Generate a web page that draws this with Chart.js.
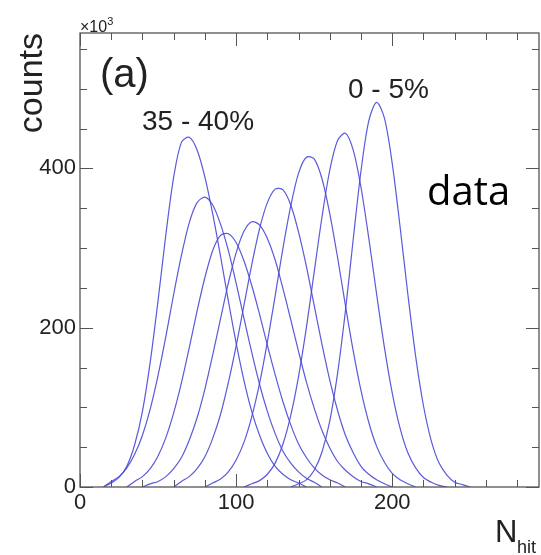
<!DOCTYPE html>
<html>
<head>
<meta charset="utf-8">
<title>Nhit distributions per centrality class</title>
<script src="https://cdn.jsdelivr.net/npm/chart.js@4.4.1/dist/chart.umd.min.js"></script>
<style>
  html, body { margin: 0; padding: 0; background: #fff; }
  #wrap { width: 541px; height: 555px; position: relative; }
</style>
</head>
<body>
<div id="wrap"><canvas id="nhit"></canvas></div>
<script>
/* Nhit distributions, one curve per 5% centrality class.
   Counts are in units of 10^3, sampled every 5 hits starting at firstBin. */

const centralityClasses = ['35 - 40%', '30 - 35%', '25 - 30%', '20 - 25%',
                           '15 - 20%', '10 - 15%', '5 - 10%', '0 - 5%'];
const binWidth = 5;
const firstBin = [15, 15, 30, 40, 60, 80, 105, 135];

const counts35to40 = [0, 5, 12, 26, 53, 95, 157, 234, 317, 389, 433, 439, 423, 389, 343, 290, 234, 181, 134, 95, 65, 42, 26, 16, 9, 5, 0];
const counts30to35 = [0, 7, 13, 24, 41, 65, 98, 140, 189, 242, 291, 332, 357, 364, 354, 330, 297, 256, 212, 169, 129, 95, 67, 45, 30, 19, 11, 6, 0];
const counts25to30 = [0, 7, 13, 23, 39, 62, 93, 131, 175, 221, 263, 297, 316, 318, 307, 284, 253, 217, 178, 141, 107, 78, 54, 37, 24, 15, 9, 5, 0];
const counts20to25 = [0, 4, 7, 13, 23, 37, 59, 87, 123, 166, 211, 256, 294, 321, 333, 329, 312, 285, 249, 210, 170, 132, 99, 71, 49, 32, 21, 13, 7, 4, 0];
const counts15to20 = [0, 7, 13, 23, 38, 61, 91, 131, 177, 228, 279, 324, 357, 374, 373, 354, 320, 277, 228, 179, 134, 96, 65, 43, 26, 16, 9, 4, 0];
const counts10to15 = [0, 5, 10, 19, 34, 56, 88, 130, 182, 240, 300, 353, 394, 414, 412, 387, 343, 288, 228, 171, 121, 81, 51, 31, 17, 9, 4, 0];
const counts5to10  = [0, 4, 8, 16, 30, 54, 90, 139, 200, 270, 339, 398, 435, 444, 423, 376, 312, 242, 175, 118, 74, 43, 24, 12, 6, 2, 0];
const counts0to5   = [0, 4, 9, 21, 44, 83, 143, 221, 311, 397, 460, 483, 463, 406, 327, 242, 164, 102, 58, 30, 15, 6, 3, 0];

const allCounts = [counts35to40, counts30to35, counts25to30, counts20to25,
                   counts15to20, counts10to15, counts5to10, counts0to5];

// axis ranges and labelled ticks
const X_MAX = 294;
const Y_MAX = 570;
const xTickValues = [0, 100, 200];
const yTickValues = [0, 200, 400];

const LINE = 'rgba(72, 72, 214, 0.9)';
const TEXT = '#222';
const SANS = '"Liberation Sans", Arial, sans-serif';

// ROOT-like frame: box on all four sides with inward ticks, plus the annotations.
const frameAndText = {
  id: 'frameAndText',
  afterDraw(chart) {
    const { ctx, chartArea: a, scales: { x, y } } = chart;
    ctx.save();
    ctx.strokeStyle = '#555';
    ctx.lineWidth = 1.3;
    ctx.strokeRect(a.left, a.top, a.right - a.left, a.bottom - a.top);

    ctx.beginPath();
    ctx.lineWidth = 1;
    for (let v = 0; v <= X_MAX; v += 20) {
      const px = Math.round(x.getPixelForValue(v)) + 0.5;
      const len = v % 100 === 0 ? 13 : 7;
      ctx.moveTo(px, a.bottom); ctx.lineTo(px, a.bottom - len);
      ctx.moveTo(px, a.top); ctx.lineTo(px, a.top + len);
    }
    for (let v = 0; v <= Y_MAX; v += 50) {
      const py = Math.round(y.getPixelForValue(v)) + 0.5;
      const len = v % 200 === 0 ? 13 : 7;
      ctx.moveTo(a.left, py); ctx.lineTo(a.left + len, py);
      ctx.moveTo(a.right, py); ctx.lineTo(a.right - len, py);
    }
    ctx.stroke();

    ctx.fillStyle = TEXT;
    ctx.textBaseline = 'alphabetic';
    ctx.textAlign = 'left';

    // multiplier above the y axis
    ctx.font = '16px ' + SANS;
    ctx.fillText('\u00d710', a.left, a.top - 1);
    const w = ctx.measureText('\u00d710').width;
    ctx.font = '11px ' + SANS;
    ctx.fillText('3', a.left + w, a.top - 8);

    // panel tag and class labels
    ctx.font = '40px ' + SANS;
    ctx.fillText('(a)', a.left + 20, a.top + 54);
    ctx.font = '28px ' + SANS;
    ctx.fillText(centralityClasses[0], a.left + 62, a.top + 97);
    ctx.fillText(centralityClasses[7], a.left + 268, a.top + 65);

    ctx.fillStyle = '#000';
    ctx.font = '40px "Open Sans", sans-serif';
    ctx.fillText('data', a.left + 347, a.top + 172);

    // axis titles
    ctx.fillStyle = TEXT;
    ctx.font = '31px ' + SANS;
    ctx.fillText('N', 495, 542);
    ctx.font = '18px ' + SANS;
    ctx.fillText('hit', 517, 553);

    ctx.save();
    ctx.translate(42, a.top);
    ctx.rotate(-Math.PI / 2);
    ctx.textAlign = 'right';
    ctx.font = '34px ' + SANS;
    ctx.fillText('counts', 0, 0);
    ctx.restore();

    ctx.restore();
  }
};

const datasets = allCounts.map((counts, i) => ({
  label: centralityClasses[i],
  data: counts.map((c, k) => ({ x: firstBin[i] + k * binWidth, y: c })),
  borderColor: LINE,
  borderWidth: 1.2,
  pointRadius: 0,
  fill: false,
  tension: 0.3
}));

new Chart(document.getElementById('nhit').getContext('2d'), {
  type: 'line',
  data: { datasets },
  options: {
    responsive: true,
    maintainAspectRatio: false,
    animation: false,
    layout: { padding: { left: 0, right: 2, top: 33, bottom: 0 } },
    plugins: { legend: { display: false }, tooltip: { enabled: false } },
    scales: {
      x: {
        type: 'linear', min: 0, max: X_MAX,
        grid: { display: false, drawTicks: false },
        border: { display: false },
        afterBuildTicks: s => { s.ticks = xTickValues.map(v => ({ value: v })); },
        afterFit: s => { s.height = 68; },
        ticks: { color: TEXT, font: { family: SANS, size: 22 }, padding: 3, maxRotation: 0 }
      },
      y: {
        type: 'linear', min: 0, max: Y_MAX,
        grid: { display: false, drawTicks: false },
        border: { display: false },
        afterBuildTicks: s => { s.ticks = yTickValues.map(v => ({ value: v })); },
        afterFit: s => { s.width = 80; },
        ticks: { color: TEXT, font: { family: SANS, size: 22 }, padding: 4 }
      }
    }
  },
  plugins: [frameAndText]
});
</script>
</body>
</html>
